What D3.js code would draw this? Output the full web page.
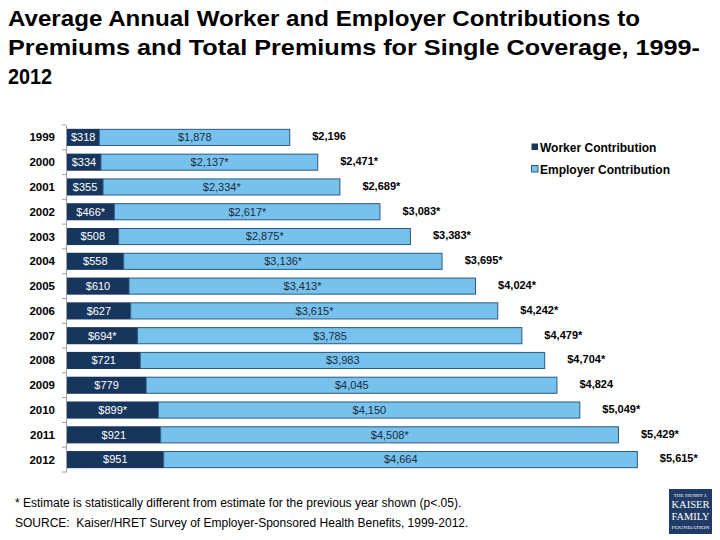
<!DOCTYPE html>
<html><head><meta charset="utf-8">
<script src="https://cdn.jsdelivr.net/npm/d3@7"></script>
<style>body{margin:0;background:#fff;} svg{display:block;font-family:"Liberation Sans",Arial,sans-serif;}</style>
</head><body>
<svg id="c" width="720" height="540"></svg>
<script>
const years = ["1999","2000","2001","2002","2003","2004","2005","2006","2007","2008","2009","2010","2011","2012"];
const worker = [318,334,355,466,508,558,610,627,694,721,779,899,921,951];
const employer = [1878,2137,2334,2617,2875,3136,3413,3615,3785,3983,4045,4150,4508,4664];
const totals = [2196,2471,2689,3083,3383,3695,4024,4242,4479,4704,4824,5049,5429,5615];
const workerSig = [0,0,0,1,0,0,0,0,1,0,0,1,0,0];
const employerSig = [0,1,1,1,1,1,1,1,0,0,0,0,1,0];
const totalSig = [0,1,1,1,1,1,1,1,1,1,0,1,1,1];
const seriesNames = ["Worker Contribution","Employer Contribution"];
const titleLines = ["Average Annual Worker and Employer Contributions to","Premiums and Total Premiums for Single Coverage, 1999-","2012"];
const footnote = "* Estimate is statistically different from estimate for the previous year shown (p<.05).";
const source = "SOURCE:\u00a0 Kaiser/HRET Survey of Employer-Sponsored Health Benefits, 1999-2012.";

const cWorker = "#17365d", cEmployer = "#77c2ec", cStroke = "#2b5a82";
const fmt = d3.format(",");
const svg = d3.select("#c");

// title
const tw = [632, 692, 44];
titleLines.forEach((t,i)=>{
  const el = svg.append("text").attr("x",8).attr("y",26+i*29)
    .attr("font-family","'Liberation Sans Narrow','Arial Narrow','Liberation Sans',Arial,sans-serif")
    .attr("font-weight","bold").attr("font-size",22).attr("fill","#000").text(t);
  el.attr("textLength",tw[i]).attr("lengthAdjust","spacingAndGlyphs");
});

const x = d3.scaleLinear().domain([0,6000]).range([67,677]);
const y = d3.scaleBand().domain(years).range([125,472]).paddingInner(0.31).paddingOuter(0.155);

// axis
const axis = d3.axisLeft(y).tickSize(0).tickFormat("");
const ag = svg.append("g").attr("transform","translate(66,0)").call(axis);
ag.select(".domain").attr("stroke","#a0a0a0");
const bounds = years.map(d=>y(d)-y.step()*y.paddingInner()/2).concat([472]);
ag.selectAll("line.tk").data(bounds).enter().append("line").attr("class","tk")
  .attr("x1",-4).attr("x2",0).attr("y1",d=>d).attr("y2",d=>d).attr("stroke","#a0a0a0");

svg.selectAll("text.yr").data(years).enter().append("text").attr("class","yr")
  .attr("x",55).attr("y",d=>y(d)+y.bandwidth()/2).attr("dy","0.35em")
  .attr("text-anchor","end").attr("font-weight","bold").attr("font-size",11.5).text(d=>d);

const rows = years.map((yr,i)=>({yr,i}));
svg.selectAll("rect.w").data(rows).enter().append("rect").attr("class","w")
  .attr("x",x(0)).attr("y",d=>y(d.yr)).attr("width",d=>x(worker[d.i])-x(0))
  .attr("height",y.bandwidth()).attr("fill",cWorker);
svg.selectAll("rect.e").data(rows).enter().append("rect").attr("class","e")
  .attr("x",d=>x(worker[d.i])).attr("y",d=>y(d.yr)+0.5)
  .attr("width",d=>x(worker[d.i]+employer[d.i])-x(worker[d.i])-0.5)
  .attr("height",y.bandwidth()-1).attr("fill",cEmployer).attr("stroke",cStroke).attr("stroke-width",1);

svg.selectAll("text.wl").data(rows).enter().append("text").attr("class","wl")
  .attr("x",d=>(x(0)+x(worker[d.i]))/2).attr("y",d=>y(d.yr)+y.bandwidth()/2).attr("dy","0.35em")
  .attr("text-anchor","middle").attr("font-size",11).attr("fill","#fff")
  .text(d=>"$"+fmt(worker[d.i])+(workerSig[d.i]?"*":""));
svg.selectAll("text.el").data(rows).enter().append("text").attr("class","el")
  .attr("x",d=>(x(worker[d.i])+x(totals[d.i]))/2).attr("y",d=>y(d.yr)+y.bandwidth()/2).attr("dy","0.35em")
  .attr("text-anchor","middle").attr("font-size",11).attr("fill","#1a2a40")
  .text(d=>"$"+fmt(employer[d.i])+(employerSig[d.i]?"*":""));
svg.selectAll("text.tl").data(rows).enter().append("text").attr("class","tl")
  .attr("x",d=>x(totals[d.i])+22).attr("y",d=>y(d.yr)+y.bandwidth()/2-1).attr("dy","0.35em")
  .attr("font-size",11).attr("font-weight","bold").attr("fill","#000")
  .text(d=>"$"+fmt(totals[d.i])+(totalSig[d.i]?"*":""));

// legend
const lg = svg.append("g");
seriesNames.forEach((n,i)=>{
  lg.append("rect").attr("x",531.5).attr("y",143.5+i*22).attr("width",6.5).attr("height",6.5)
    .attr("fill",i?cEmployer:cWorker).attr("stroke",i?cStroke:"none");
  lg.append("text").attr("x",540).attr("y",151.5+i*22).attr("font-size",12).attr("font-weight","bold").text(n);
});

// footnotes
svg.append("text").attr("x",15).attr("y",507).attr("font-size",12).text(footnote);
svg.append("text").attr("x",15).attr("y",527).attr("font-size",12).text(source);

// logo
const logo = svg.append("g");
logo.append("rect").attr("x",669).attr("y",489).attr("width",43).attr("height",45).attr("fill","#1f3b66");
const lf = "'Liberation Serif','DejaVu Serif',serif";
logo.append("text").attr("x",690.5).attr("y",497).attr("text-anchor","middle").attr("font-family",lf).attr("font-size",5).attr("fill","#fff").attr("textLength",34).attr("lengthAdjust","spacingAndGlyphs").text("THE HENRY J.");
logo.append("text").attr("x",690.5).attr("y",508).attr("text-anchor","middle").attr("font-family",lf).attr("font-size",10.5).attr("fill","#fff").attr("textLength",38).attr("lengthAdjust","spacingAndGlyphs").text("KAISER");
logo.append("text").attr("x",690.5).attr("y",520).attr("text-anchor","middle").attr("font-family",lf).attr("font-size",10.5).attr("fill","#fff").attr("textLength",38).attr("lengthAdjust","spacingAndGlyphs").text("FAMILY");
logo.append("text").attr("x",690.5).attr("y",529).attr("text-anchor","middle").attr("font-family",lf).attr("font-size",5).attr("fill","#fff").attr("textLength",38).attr("lengthAdjust","spacingAndGlyphs").text("FOUNDATION");
</script>
</body></html>
